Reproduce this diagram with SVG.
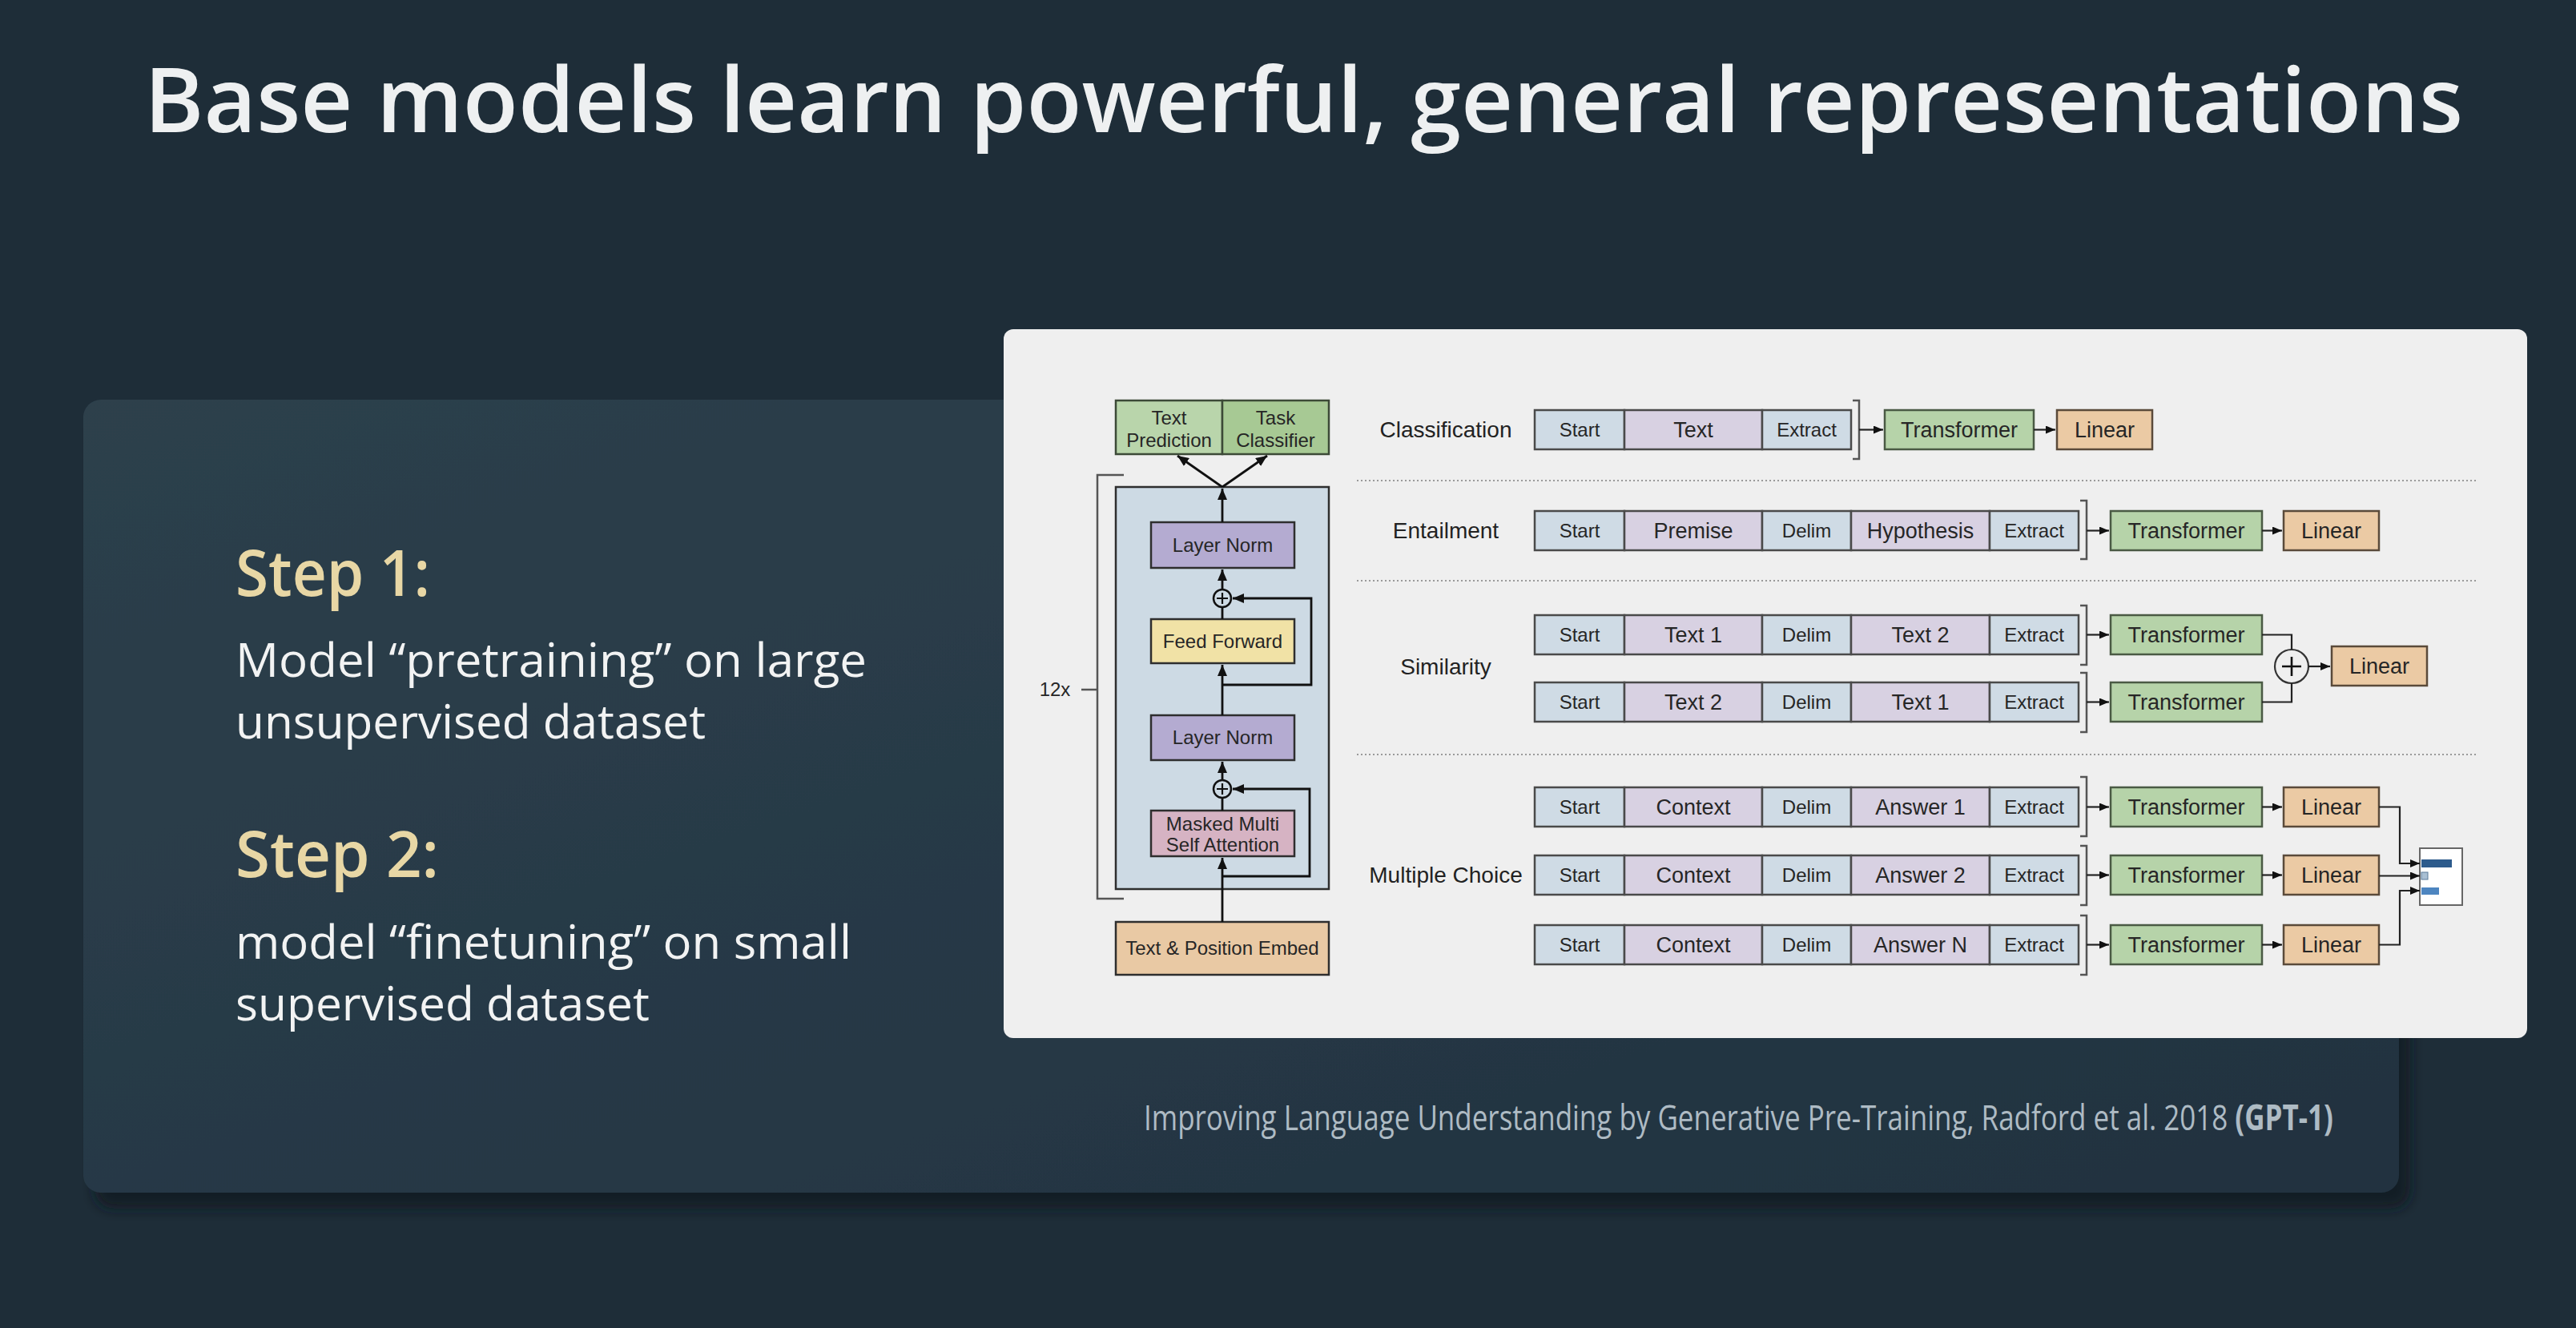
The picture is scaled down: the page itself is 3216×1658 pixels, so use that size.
<svg xmlns="http://www.w3.org/2000/svg" width="3216" height="1658" viewBox="0 0 3216 1658">
<defs>
<linearGradient id="panelGrad" x1="0" y1="0" x2="1" y2="1">
<stop offset="0" stop-color="#2d404c"/>
<stop offset="1" stop-color="#213240"/>
</linearGradient>
<filter id="shadow" x="-5%" y="-5%" width="115%" height="120%">
<feDropShadow dx="14" dy="20" stdDeviation="8" flood-color="#111b21" flood-opacity="0.8"/>
</filter>
<marker id="ah" viewBox="0 0 12 10" refX="12" refY="5" markerWidth="12" markerHeight="10" markerUnits="userSpaceOnUse" orient="auto">
<path d="M0,0 L12,5 L0,10 z" fill="#111"/>
</marker>
<marker id="ahL" viewBox="0 0 14 12" refX="14" refY="6" markerWidth="14" markerHeight="12" markerUnits="userSpaceOnUse" orient="auto">
<path d="M0,0 L14,6 L0,12 z" fill="#111"/>
</marker>
<style>
.title{font-family:"Open Sans","Noto Sans",sans-serif;font-weight:600;fill:#eef0f1}
.step{font-family:"Open Sans","Noto Sans",sans-serif;font-weight:600;fill:#e8d7a5;font-size:80px}
.body{font-family:"Open Sans","Noto Sans",sans-serif;fill:#f2f3f3;font-size:58px}
.foot{font-family:"Open Sans","Noto Sans",sans-serif;fill:#aebbc4;font-size:44px}
.fig{font-family:"Liberation Sans",Arial,sans-serif;fill:#262626;text-anchor:middle}
.lf{font-size:24px}
.sm{font-size:24px}
.bg{font-size:27px}
.lbl{font-family:"Liberation Sans",Arial,sans-serif;fill:#222;font-size:28px;text-anchor:middle}
.tok{fill:#cfdbe5;stroke:#4a4a4a;stroke-width:2.5}
.seg{fill:#d8d1e2;stroke:#4a4a4a;stroke-width:2.5}
.trf{fill:#b6d3a9;stroke:#4a5a44;stroke-width:2.5}
.lin{fill:#ebcaa4;stroke:#5a4a3a;stroke-width:2.5}
.box{stroke:#2e2e2e;stroke-width:2.5}
.br{fill:none;stroke:#555;stroke-width:2.5}
.cn{fill:none;stroke:#222;stroke-width:2.2}
.cnL{fill:none;stroke:#111;stroke-width:2.8}
.dot{stroke:#9a9a9a;stroke-width:2;stroke-dasharray:2 3}
</style>
</defs>

<rect x="0" y="0" width="3216" height="1658" fill="#1e2d38"/>

<g id="title">
<text class="title" x="180" y="165" font-size="112" textLength="2895" lengthAdjust="spacingAndGlyphs">Base models learn powerful, general representations</text>
</g>

<g id="left-panel">
<rect x="104" y="499" width="2891" height="990" rx="22" fill="url(#panelGrad)" filter="url(#shadow)"/>
<text class="step" x="294" y="744" textLength="243" lengthAdjust="spacingAndGlyphs">Step 1:</text>
<text class="body" x="294" y="845" textLength="788" lengthAdjust="spacingAndGlyphs">Model “pretraining” on large</text>
<text class="body" x="294" y="922" textLength="587" lengthAdjust="spacingAndGlyphs">unsupervised dataset</text>
<text class="step" x="294" y="1095" textLength="254" lengthAdjust="spacingAndGlyphs">Step 2:</text>
<text class="body" x="294" y="1197" textLength="769" lengthAdjust="spacingAndGlyphs">model “finetuning” on small</text>
<text class="body" x="294" y="1274" textLength="517" lengthAdjust="spacingAndGlyphs">supervised dataset</text>
<text class="foot" transform="translate(1428,1411) scale(0.795,1)">Improving Language Understanding by Generative Pre-Training, Radford et al. 2018 <tspan font-weight="700">(GPT-1)</tspan></text>
</g>

<g id="figure-panel">
<rect x="1253" y="411" width="1902" height="885" rx="12" fill="#efefef"/>
</g>

<g id="separators">
<line class="dot" x1="1694" y1="600" x2="3091" y2="600"/>
<line class="dot" x1="1694" y1="725" x2="3091" y2="725"/>
<line class="dot" x1="1694" y1="942" x2="3091" y2="942"/>
</g>

<g id="blue-block"><rect class="box" x="1393" y="608" width="266" height="502" fill="#cddae4"/></g>
<g id="text-prediction"><rect x="1393" y="500" width="133" height="67" fill="#b9d5ab" stroke="#3c4a37" stroke-width="2.5"/>
<text class="fig lf" x="1459.5" y="530">Text</text><text class="fig lf" x="1459.5" y="558">Prediction</text></g>
<g id="task-classifier"><rect x="1526" y="500" width="133" height="67" fill="#a7c994" stroke="#3c4a37" stroke-width="2.5"/>
<text class="fig lf" x="1592.5" y="530">Task</text><text class="fig lf" x="1592.5" y="558">Classifier</text></g>
<g id="layer-norm-2"><rect class="box" x="1437" y="652" width="179" height="57" fill="#b4abd1"/>
<text class="fig lf" x="1526.5" y="689">Layer Norm</text></g>
<g id="add-2"><circle cx="1526" cy="747" r="11" fill="#cddae4" stroke="#111" stroke-width="2.5"/>
<path d="M1519,747 H1533 M1526,740 V754" stroke="#111" stroke-width="2.2"/></g>
<g id="feed-forward"><rect class="box" x="1437" y="773" width="179" height="55" fill="#f1e2a6"/>
<text class="fig lf" x="1526.5" y="809">Feed Forward</text></g>
<g id="layer-norm-1"><rect class="box" x="1437" y="893" width="179" height="56" fill="#b4abd1"/>
<text class="fig lf" x="1526.5" y="929">Layer Norm</text></g>
<g id="add-1"><circle cx="1526" cy="985" r="11" fill="#cddae4" stroke="#111" stroke-width="2.5"/>
<path d="M1519,985 H1533 M1526,978 V992" stroke="#111" stroke-width="2.2"/></g>
<g id="masked-attention"><rect class="box" x="1437" y="1012" width="179" height="57" fill="#d6b3c3"/>
<text class="fig lf" x="1526.5" y="1037">Masked Multi</text><text class="fig lf" x="1526.5" y="1063">Self Attention</text></g>
<g id="embed"><rect class="box" x="1393" y="1151" width="266" height="66" fill="#e9c9a4"/>
<text class="fig lf" x="1526" y="1192">Text &amp; Position Embed</text></g>
<g id="repeat-12x">
<path class="br" d="M1403,593 H1370 V1122 H1403 M1350,861 H1370" stroke="#777"/>
<text class="fig lf" x="1317" y="869">12x</text>
</g>

<g id="label-classification"><text class="lbl" x="1805" y="546">Classification</text></g>
<g id="label-entailment"><text class="lbl" x="1805" y="672">Entailment</text></g>
<g id="label-similarity"><text class="lbl" x="1805" y="842">Similarity</text></g>
<g id="label-multiple-choice"><text class="lbl" x="1805" y="1102">Multiple Choice</text></g>

<g id="seq-classification">
<rect class="tok" x="1916" y="512" width="112" height="49"/><text class="fig sm" x="1972" y="545">Start</text>
<rect class="seg" x="2028" y="512" width="172" height="49"/><text class="fig bg" x="2114" y="546">Text</text>
<rect class="tok" x="2200" y="512" width="111" height="49"/><text class="fig sm" x="2255.5" y="545">Extract</text>
<path class="br" d="M2313,500 H2321 V573 H2313"/>
</g>
<g id="seq-entailment">
<rect class="tok" x="1916" y="638" width="112" height="49"/><text class="fig sm" x="1972" y="671">Start</text>
<rect class="seg" x="2028" y="638" width="172" height="49"/><text class="fig bg" x="2114" y="672">Premise</text>
<rect class="tok" x="2200" y="638" width="111" height="49"/><text class="fig sm" x="2255.5" y="671">Delim</text>
<rect class="seg" x="2311" y="638" width="173" height="49"/><text class="fig bg" x="2397.5" y="672">Hypothesis</text>
<rect class="tok" x="2484" y="638" width="111" height="49"/><text class="fig sm" x="2539.5" y="671">Extract</text>
<path class="br" d="M2597,625 H2605 V698 H2597"/>
</g>
<g id="seq-similarity-1">
<rect class="tok" x="1916" y="768" width="112" height="49"/><text class="fig sm" x="1972" y="801">Start</text>
<rect class="seg" x="2028" y="768" width="172" height="49"/><text class="fig bg" x="2114" y="802">Text 1</text>
<rect class="tok" x="2200" y="768" width="111" height="49"/><text class="fig sm" x="2255.5" y="801">Delim</text>
<rect class="seg" x="2311" y="768" width="173" height="49"/><text class="fig bg" x="2397.5" y="802">Text 2</text>
<rect class="tok" x="2484" y="768" width="111" height="49"/><text class="fig sm" x="2539.5" y="801">Extract</text>
<path class="br" d="M2597,756 H2605 V830 H2597"/>
</g>
<g id="seq-similarity-2">
<rect class="tok" x="1916" y="852" width="112" height="49"/><text class="fig sm" x="1972" y="885">Start</text>
<rect class="seg" x="2028" y="852" width="172" height="49"/><text class="fig bg" x="2114" y="886">Text 2</text>
<rect class="tok" x="2200" y="852" width="111" height="49"/><text class="fig sm" x="2255.5" y="885">Delim</text>
<rect class="seg" x="2311" y="852" width="173" height="49"/><text class="fig bg" x="2397.5" y="886">Text 1</text>
<rect class="tok" x="2484" y="852" width="111" height="49"/><text class="fig sm" x="2539.5" y="885">Extract</text>
<path class="br" d="M2597,840 H2605 V914 H2597"/>
</g>
<g id="seq-mc-1">
<rect class="tok" x="1916" y="983" width="112" height="49"/><text class="fig sm" x="1972" y="1016">Start</text>
<rect class="seg" x="2028" y="983" width="172" height="49"/><text class="fig bg" x="2114" y="1017">Context</text>
<rect class="tok" x="2200" y="983" width="111" height="49"/><text class="fig sm" x="2255.5" y="1016">Delim</text>
<rect class="seg" x="2311" y="983" width="173" height="49"/><text class="fig bg" x="2397.5" y="1017">Answer 1</text>
<rect class="tok" x="2484" y="983" width="111" height="49"/><text class="fig sm" x="2539.5" y="1016">Extract</text>
<path class="br" d="M2597,970 H2605 V1044 H2597"/>
</g>
<g id="seq-mc-2">
<rect class="tok" x="1916" y="1068" width="112" height="49"/><text class="fig sm" x="1972" y="1101">Start</text>
<rect class="seg" x="2028" y="1068" width="172" height="49"/><text class="fig bg" x="2114" y="1102">Context</text>
<rect class="tok" x="2200" y="1068" width="111" height="49"/><text class="fig sm" x="2255.5" y="1101">Delim</text>
<rect class="seg" x="2311" y="1068" width="173" height="49"/><text class="fig bg" x="2397.5" y="1102">Answer 2</text>
<rect class="tok" x="2484" y="1068" width="111" height="49"/><text class="fig sm" x="2539.5" y="1101">Extract</text>
<path class="br" d="M2597,1056 H2605 V1130 H2597"/>
</g>
<g id="seq-mc-3">
<rect class="tok" x="1916" y="1155" width="112" height="49"/><text class="fig sm" x="1972" y="1188">Start</text>
<rect class="seg" x="2028" y="1155" width="172" height="49"/><text class="fig bg" x="2114" y="1189">Context</text>
<rect class="tok" x="2200" y="1155" width="111" height="49"/><text class="fig sm" x="2255.5" y="1188">Delim</text>
<rect class="seg" x="2311" y="1155" width="173" height="49"/><text class="fig bg" x="2397.5" y="1189">Answer N</text>
<rect class="tok" x="2484" y="1155" width="111" height="49"/><text class="fig sm" x="2539.5" y="1188">Extract</text>
<path class="br" d="M2597,1143 H2605 V1217 H2597"/>
</g>

<g id="transformer-classification"><rect class="trf" x="2353" y="512" width="186" height="49"/><text class="fig bg" x="2446" y="546">Transformer</text></g>
<g id="linear-classification"><rect class="lin" x="2568" y="512" width="119" height="49"/><text class="fig bg" x="2627.5" y="546">Linear</text></g>
<g id="transformer-entailment"><rect class="trf" x="2635" y="638" width="189" height="49"/><text class="fig bg" x="2729.5" y="672">Transformer</text></g>
<g id="linear-entailment"><rect class="lin" x="2851" y="638" width="119" height="49"/><text class="fig bg" x="2910.5" y="672">Linear</text></g>
<g id="transformer-similarity-1"><rect class="trf" x="2635" y="768" width="189" height="49"/><text class="fig bg" x="2729.5" y="802">Transformer</text></g>
<g id="transformer-similarity-2"><rect class="trf" x="2635" y="852" width="189" height="49"/><text class="fig bg" x="2729.5" y="886">Transformer</text></g>
<g id="add-similarity"><circle cx="2861" cy="832" r="21" fill="#efefef" stroke="#333" stroke-width="2.2"/>
<path d="M2849,832 H2873 M2861,820 V844" stroke="#111" stroke-width="2.6"/></g>
<g id="linear-similarity"><rect class="lin" x="2911" y="807" width="119" height="49"/><text class="fig bg" x="2970.5" y="841">Linear</text></g>
<g id="transformer-mc-1"><rect class="trf" x="2635" y="983" width="189" height="49"/><text class="fig bg" x="2729.5" y="1017">Transformer</text></g>
<g id="linear-mc-1"><rect class="lin" x="2851" y="983" width="119" height="49"/><text class="fig bg" x="2910.5" y="1017">Linear</text></g>
<g id="transformer-mc-2"><rect class="trf" x="2635" y="1068" width="189" height="49"/><text class="fig bg" x="2729.5" y="1102">Transformer</text></g>
<g id="linear-mc-2"><rect class="lin" x="2851" y="1068" width="119" height="49"/><text class="fig bg" x="2910.5" y="1102">Linear</text></g>
<g id="transformer-mc-3"><rect class="trf" x="2635" y="1155" width="189" height="49"/><text class="fig bg" x="2729.5" y="1189">Transformer</text></g>
<g id="linear-mc-3"><rect class="lin" x="2851" y="1155" width="119" height="49"/><text class="fig bg" x="2910.5" y="1189">Linear</text></g>
<g id="softmax-output">
<rect x="3021" y="1059" width="53" height="71" fill="#ffffff" stroke="#666" stroke-width="2"/>
<rect x="3023" y="1073" width="38" height="10" fill="#2d5b8c"/>
<rect x="3023" y="1089" width="8" height="9" fill="#a9bfd3" stroke="#5a7a9a" stroke-width="1"/>
<rect x="3023" y="1108" width="22" height="9" fill="#4d85c0"/>
</g>

<g id="connectors">
<path class="cnL" d="M1526,652 V610" marker-end="url(#ahL)"/>
<path class="cnL" d="M1526,608 L1470,569" marker-end="url(#ahL)"/>
<path class="cnL" d="M1526,608 L1582,569" marker-end="url(#ahL)"/>
<path class="cnL" d="M1526,736 V711" marker-end="url(#ahL)"/>
<path class="cnL" d="M1526,773 V758"/>
<path class="cnL" d="M1526,893 V830" marker-end="url(#ahL)"/>
<path class="cnL" d="M1526,855 H1637 V747 H1539" marker-end="url(#ahL)"/>
<path class="cnL" d="M1526,974 V951" marker-end="url(#ahL)"/>
<path class="cnL" d="M1526,1012 V996"/>
<path class="cnL" d="M1526,1151 V1071" marker-end="url(#ahL)"/>
<path class="cnL" d="M1526,1094 H1635 V985 H1539" marker-end="url(#ahL)"/>
<path class="cn" d="M2321,536.5 H2351" marker-end="url(#ah)"/>
<path class="cn" d="M2539,536.5 H2566" marker-end="url(#ah)"/>
<path class="cn" d="M2605,662.5 H2633" marker-end="url(#ah)"/>
<path class="cn" d="M2824,662.5 H2849" marker-end="url(#ah)"/>
<path class="cn" d="M2605,792.5 H2633" marker-end="url(#ah)"/>
<path class="cn" d="M2605,876.5 H2633" marker-end="url(#ah)"/>
<path class="cn" d="M2824,792.5 H2861 V811"/>
<path class="cn" d="M2824,876.5 H2861 V853"/>
<path class="cn" d="M2882,832 H2909" marker-end="url(#ah)"/>
<path class="cn" d="M2605,1007.5 H2633" marker-end="url(#ah)"/>
<path class="cn" d="M2605,1092.5 H2633" marker-end="url(#ah)"/>
<path class="cn" d="M2605,1179.5 H2633" marker-end="url(#ah)"/>
<path class="cn" d="M2824,1007.5 H2849" marker-end="url(#ah)"/>
<path class="cn" d="M2824,1092.5 H2849" marker-end="url(#ah)"/>
<path class="cn" d="M2824,1179.5 H2849" marker-end="url(#ah)"/>
<path class="cn" d="M2970,1007.5 H2996 V1078 H3021" marker-end="url(#ah)"/>
<path class="cn" d="M2970,1093.5 H3021" marker-end="url(#ah)"/>
<path class="cn" d="M2970,1179.5 H2996 V1112 H3021" marker-end="url(#ah)"/>
</g>
</svg>
